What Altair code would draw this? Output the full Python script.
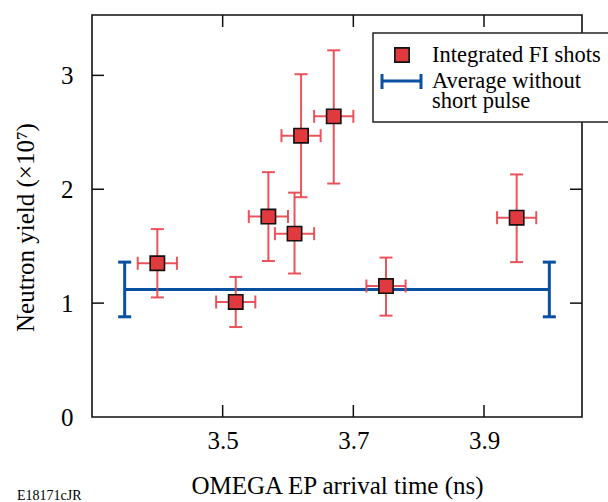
import altair as alt
import pandas as pd

# ---- data ----
times = [3.40, 3.52, 3.57, 3.61, 3.62, 3.67, 3.75, 3.95]
yields = [1.35, 1.01, 1.76, 1.61, 2.47, 2.64, 1.15, 1.75]
y_low = [1.05, 0.79, 1.37, 1.26, 1.93, 2.05, 0.89, 1.36]
y_high = [1.65, 1.23, 2.15, 1.97, 3.01, 3.22, 1.40, 2.13]
x_err = [0.03, 0.03, 0.03, 0.03, 0.03, 0.03, 0.03, 0.03]

avg_start = 3.35
avg_end = 4.00
avg_value = 1.12
avg_low = 0.88
avg_high = 1.36

x_ticks = [3.5, 3.7, 3.9]
y_ticks = [0, 1, 2, 3]

FONT = "Liberation Serif"
RED_FILL = "#e0393e"
RED_BAR = "#e8434b"
BLUE = "#0a50a0"

W, H = 490, 402

pts = pd.DataFrame({"t": times, "y": yields, "lo": y_low, "hi": y_high, "xe": x_err})
pts["xl"] = pts["t"] - pts["xe"]
pts["xh"] = pts["t"] + pts["xe"]

ycaps = pd.DataFrame({"t": times + times, "y": y_low + y_high})
xcaps = pd.DataFrame({"t": list(pts["xl"]) + list(pts["xh"]), "y": yields + yields})

avg_h = pd.DataFrame({"x0": [avg_start], "x1": [avg_end], "y": [avg_value]})
avg_v = pd.DataFrame({"x": [avg_start, avg_end], "lo": [avg_low, avg_low], "hi": [avg_high, avg_high]})
avg_caps = pd.DataFrame({"x": [avg_start, avg_end, avg_start, avg_end],
                         "y": [avg_low, avg_low, avg_high, avg_high]})

xs = alt.Scale(domain=[3.3, 4.05], nice=False, zero=False)
ys = alt.Scale(domain=[0, 3.53], nice=False, zero=False)

xaxis = alt.Axis(values=x_ticks, format=".1f", title="OMEGA EP arrival time (ns)",
                 labelFont=FONT, labelFontSize=25, labelPadding=11,
                 titleFont=FONT, titleFontSize=25,
                 titleY=76, titleBaseline="alphabetic")
yaxis = alt.Axis(values=y_ticks, format="d", title="Neutron yield (×10⁷)",
                 labelFont=FONT, labelFontSize=25, labelPadding=19,
                 titleFont=FONT, titleFontSize=25,
                 titleX=-59, titleY=212, titleBaseline="alphabetic")

base_h = alt.Chart(avg_h).mark_rule(color=BLUE, strokeWidth=3).encode(
    x=alt.X("x0:Q", scale=xs, axis=xaxis),
    x2="x1:Q",
    y=alt.Y("y:Q", scale=ys, axis=yaxis),
)
base_v = alt.Chart(avg_v).mark_rule(color=BLUE, strokeWidth=3).encode(
    x=alt.X("x:Q", scale=xs), y=alt.Y("lo:Q", scale=ys), y2="hi:Q")
base_caps = alt.Chart(avg_caps).mark_tick(color=BLUE, orient="horizontal", size=13, thickness=3, opacity=1).encode(
    x=alt.X("x:Q", scale=xs), y=alt.Y("y:Q", scale=ys))

err_v = alt.Chart(pts).mark_rule(color=RED_BAR, strokeWidth=2, opacity=0.9).encode(
    x=alt.X("t:Q", scale=xs), y=alt.Y("lo:Q", scale=ys), y2="hi:Q")
err_h = alt.Chart(pts).mark_rule(color=RED_BAR, strokeWidth=2, opacity=0.9).encode(
    x=alt.X("xl:Q", scale=xs), x2="xh:Q", y=alt.Y("y:Q", scale=ys))
cap_y = alt.Chart(ycaps).mark_tick(color=RED_BAR, orient="horizontal", size=13, thickness=2, opacity=0.9).encode(
    x=alt.X("t:Q", scale=xs), y=alt.Y("y:Q", scale=ys))
cap_x = alt.Chart(xcaps).mark_tick(color=RED_BAR, orient="vertical", size=13, thickness=2, opacity=0.9).encode(
    x=alt.X("t:Q", scale=xs), y=alt.Y("y:Q", scale=ys))
squares = alt.Chart(pts).mark_square(size=205, fill=RED_FILL, stroke="#111", strokeWidth=1.6, opacity=1).encode(
    x=alt.X("t:Q", scale=xs), y=alt.Y("y:Q", scale=ys))

# inward ticks on all four sides
ytk = pd.DataFrame({"v": y_ticks[1:]})
xtk = pd.DataFrame({"v": x_ticks})
tk_left = alt.Chart(ytk).mark_rule(color="#111", strokeWidth=1.5).encode(
    y=alt.Y("v:Q", scale=ys), x=alt.value(0), x2=alt.value(12))
tk_right = alt.Chart(ytk).mark_rule(color="#111", strokeWidth=1.5).encode(
    y=alt.Y("v:Q", scale=ys), x=alt.value(W - 12), x2=alt.value(W))
tk_bottom = alt.Chart(xtk).mark_rule(color="#111", strokeWidth=1.5).encode(
    x=alt.X("v:Q", scale=xs), y=alt.value(H - 12), y2=alt.value(H))
tk_top = alt.Chart(xtk).mark_rule(color="#111", strokeWidth=1.5).encode(
    x=alt.X("v:Q", scale=xs), y=alt.value(0), y2=alt.value(12))

# legend drawn by hand
one = pd.DataFrame({"a": [0]})
leg_box = alt.Chart(one).mark_rect(fill="white", stroke="#222", strokeWidth=1.5).encode(
    x=alt.value(281), x2=alt.value(540), y=alt.value(18), y2=alt.value(107))
leg_sq = alt.Chart(one).mark_square(size=205, fill=RED_FILL, stroke="#111", strokeWidth=1.6, opacity=1).encode(
    x=alt.value(310), y=alt.value(40))
leg_line = alt.Chart(one).mark_rule(color=BLUE, strokeWidth=3).encode(
    x=alt.value(290), x2=alt.value(329), y=alt.value(66))
leg_c1 = alt.Chart(one).mark_rule(color=BLUE, strokeWidth=3).encode(
    x=alt.value(290), y=alt.value(59), y2=alt.value(74))
leg_c2 = alt.Chart(one).mark_rule(color=BLUE, strokeWidth=3).encode(
    x=alt.value(329), y=alt.value(59), y2=alt.value(74))

def txt(s, x, y, size=22.5):
    return alt.Chart(one).mark_text(text=s, font=FONT, fontSize=size, align="left",
                                    baseline="alphabetic", color="black").encode(
        x=alt.value(x), y=alt.value(y))

leg_t1 = txt("Integrated FI shots", 340, 47)
leg_t2 = txt("Average without", 340, 73)
leg_t3 = txt("short pulse", 340, 93)
code = txt("E18171cJR", -75, 485, 14)

chart = alt.layer(
    base_h, base_v, base_caps,
    err_v, err_h, cap_y, cap_x, squares,
    tk_left, tk_right, tk_bottom, tk_top,
    leg_box, leg_sq, leg_line, leg_c1, leg_c2, leg_t1, leg_t2, leg_t3, code,
).properties(
    width=W, height=H,
    autosize=alt.AutoSizeParams(type="none"),
    padding={"left": 92, "top": 15, "right": 26, "bottom": 85},
    background="white",
).configure_view(
    stroke="#111", strokeWidth=1.6,
).configure_axis(
    grid=False, ticks=False, domain=False,
    labelFont=FONT, labelFontSize=25, labelColor="black",
    titleFont=FONT, titleFontSize=25, titleColor="black", titleFontWeight="normal",
)

chart.save("out.html", embed_options={"renderer": "svg", "actions": False})
